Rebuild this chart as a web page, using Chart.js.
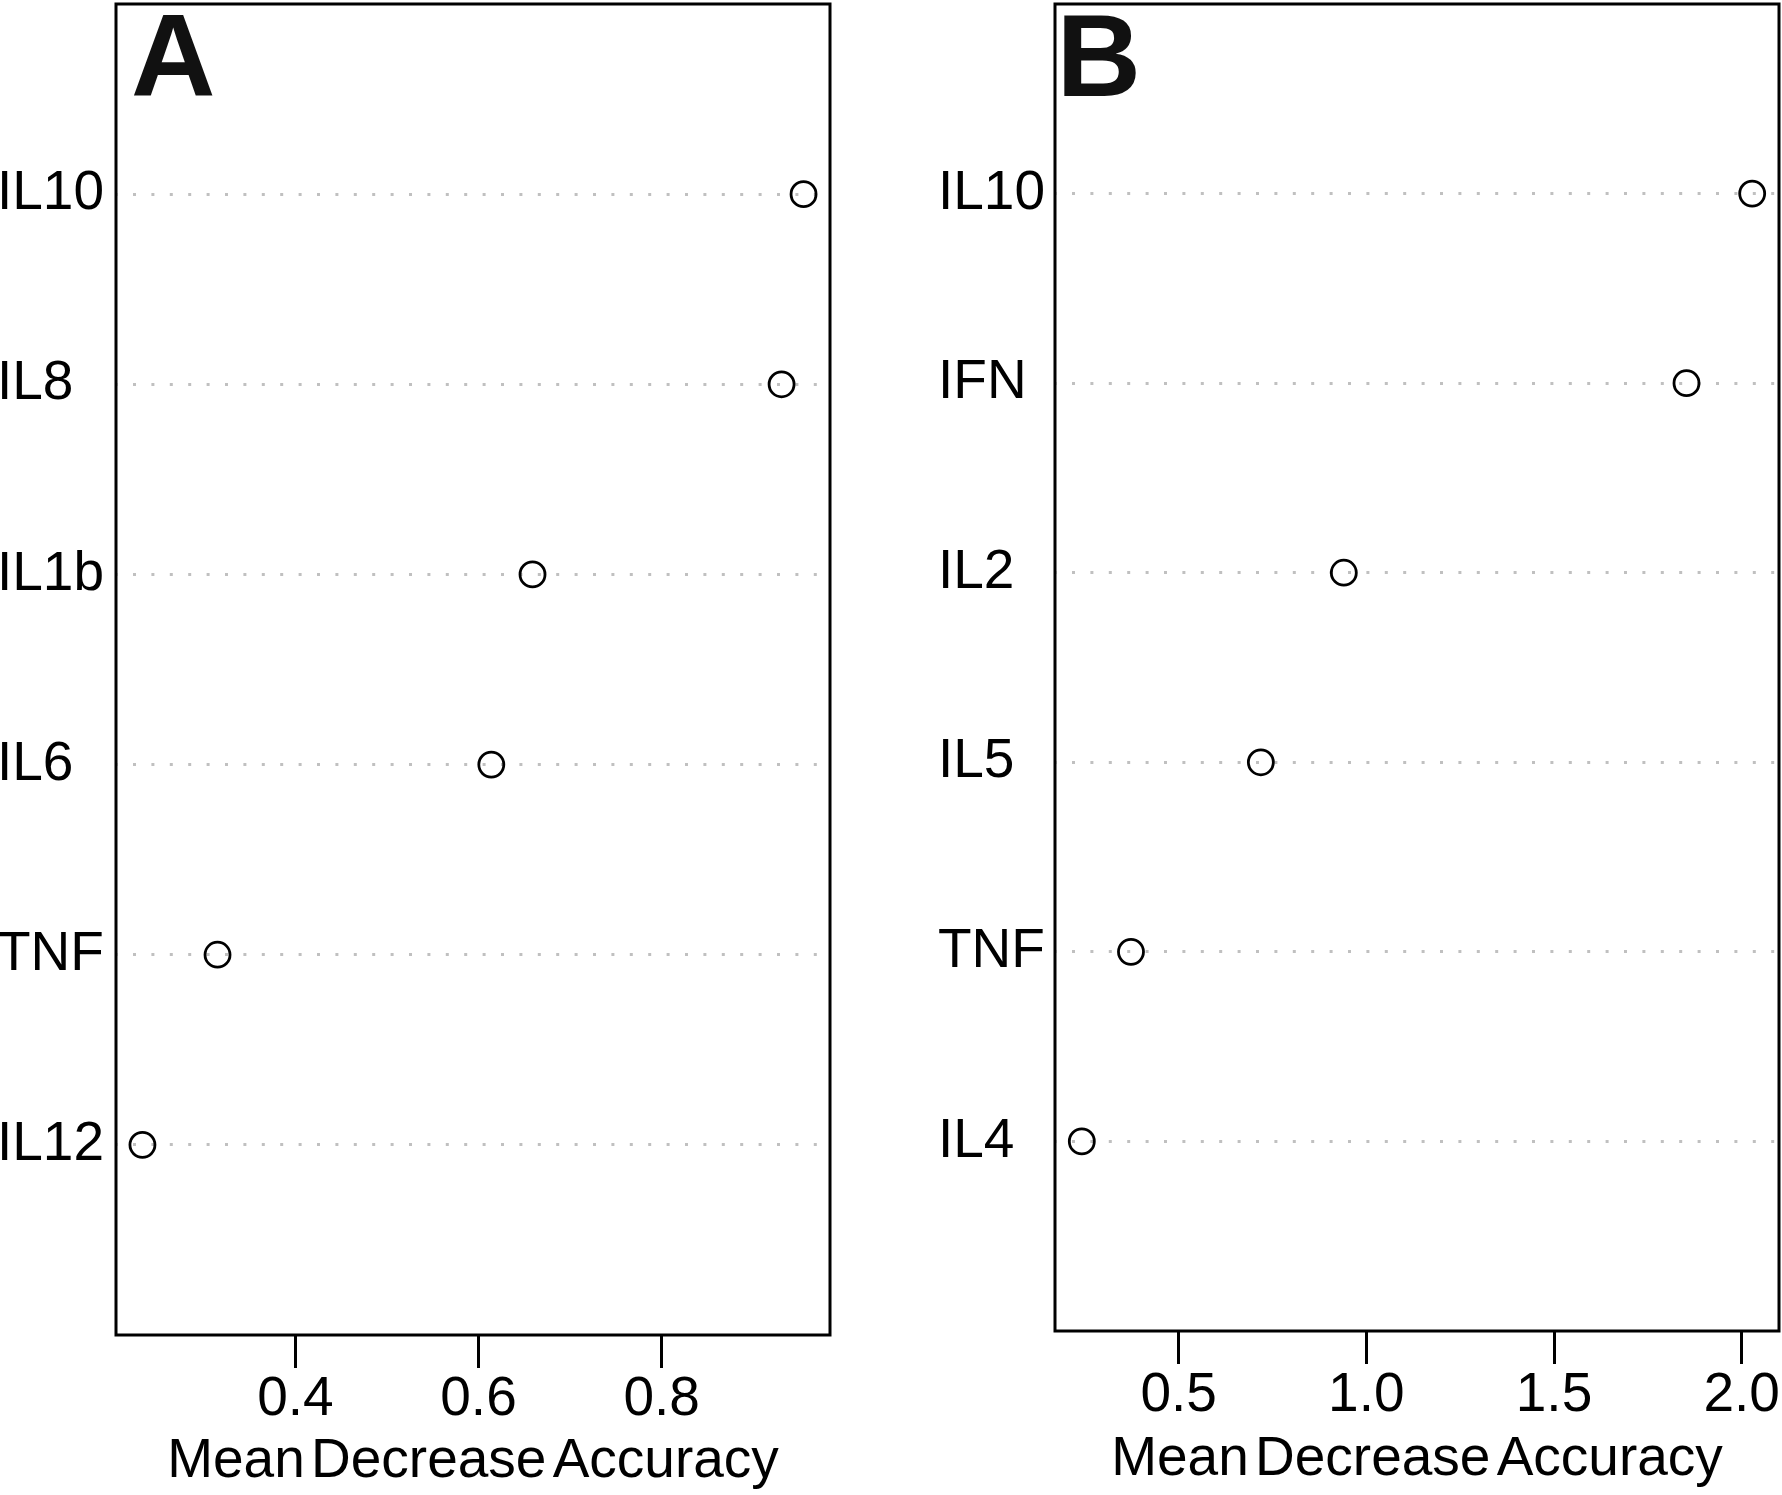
<!DOCTYPE html>
<html><head><meta charset="utf-8">
<script src="https://cdn.jsdelivr.net/npm/chart.js@4.4.1/dist/chart.umd.min.js"></script>
<style>
html,body{margin:0;padding:0;background:#fff;width:1782px;height:1495px;overflow:hidden;position:relative}
.wrap{position:absolute;top:0;height:1495px}
canvas{display:block}
</style></head><body>
<div class="wrap" style="left:-3px;width:840px"><canvas id="ca" width="840" height="1495"></canvas></div>
<div class="wrap" style="left:938px;width:844px"><canvas id="cb" width="844" height="1495"></canvas></div>
<script>
// ---- data ----
const categoriesA = ['IL10', 'IL8', 'IL1b', 'IL6', 'TNF', 'IL12'];
const valuesA = [0.955, 0.931, 0.659, 0.614, 0.315, 0.233];
const xTicksA = [0.4, 0.6, 0.8];
const xTickLabelsA = ['0.4', '0.6', '0.8'];

const categoriesB = ['IL10', 'IFN', 'IL2', 'IL5', 'TNF', 'IL4'];
const valuesB = [2.028, 1.853, 0.940, 0.719, 0.373, 0.242];
const xTicksB = [0.5, 1.0, 1.5, 2.0];
const xTickLabelsB = ['0.5', '1.0', '1.5', '2.0'];

const axisTitle = 'Mean Decrease Accuracy';
const panelLetters = ['A', 'B'];

// ---- drawing ----
Chart.defaults.font.family = '"Liberation Sans", Arial, sans-serif';
Chart.defaults.color = '#000';

function makePanel(id, cats, vals, ticks, tickLabels, letter, L) {
  const lo = Math.min(...vals), hi = Math.max(...vals), r = hi - lo;
  const n = cats.length;
  const boxPlugin = {
    id: 'box' + id,
    beforeDraw(chart) {
      chart.ctx.wordSpacing = '-9px';
    },
    afterDraw(chart) {
      const {ctx, chartArea: a} = chart;
      ctx.save();
      ctx.strokeStyle = '#000';
      ctx.lineWidth = 3;
      ctx.strokeRect(a.left, a.top, a.right - a.left, a.bottom - a.top);
      ctx.font = 'bold 117px "Liberation Sans", Arial, sans-serif';
      ctx.fillStyle = '#111';
      ctx.textBaseline = 'alphabetic';
      ctx.textAlign = 'left';
      ctx.fillText(letter, L.letterX, L.letterY);
      ctx.restore();
    }
  };
  return new Chart(document.getElementById(id), {
    type: 'scatter',
    data: {
      datasets: [{
        data: vals.map((v, i) => ({x: v, y: n - i})),
        pointStyle: 'circle',
        pointRadius: 12.5,
        pointBorderWidth: 2.8,
        borderColor: '#000',
        backgroundColor: 'rgba(0,0,0,0)',
        showLine: false
      }]
    },
    options: {
      responsive: false,
      animation: false,
      events: [],
      layout: {autoPadding: false, padding: {top: 4, right: L.padRight, bottom: 0, left: 0}},
      plugins: {legend: {display: false}, tooltip: {enabled: false}},
      scales: {
        x: {
          type: 'linear',
          min: lo - 0.04 * r,
          max: hi + 0.04 * r,
          afterBuildTicks: s => { s.ticks = ticks.map(v => ({value: v})); },
          afterFit: s => { s.height = L.xH; s.paddingLeft = 0; s.paddingRight = 0; },
          ticks: {
            padding: L.tickPad, autoSkip: false, maxRotation: 0,
            font: {size: 55}, color: '#000',
            callback: (v, i) => tickLabels[i]
          },
          grid: {drawOnChartArea: false, drawTicks: true, tickLength: 33, tickWidth: 3, tickColor: '#000', color: '#000'},
          border: {display: false},
          title: {display: true, text: axisTitle, font: {size: 55}, color: '#000', padding: {top: 0, bottom: L.titlePad}}
        },
        y: {
          type: 'linear',
          min: 0,
          max: n + 1,
          afterBuildTicks: s => { s.ticks = cats.map((c, i) => ({value: n - i})); },
          afterFit: s => { s.width = L.yW; s.paddingTop = 0; s.paddingBottom = 0; },
          ticks: {
            crossAlign: 'far', padding: 0, autoSkip: false,
            font: {size: 55}, color: '#000',
            callback: v => cats[n - v]
          },
          grid: {color: '#c0c0c0', lineWidth: 3, drawTicks: false},
          border: {display: false, dash: [3, 15.4], dashOffset: 1.4}
        }
      }
    },
    plugins: [boxPlugin]
  });
}

makePanel('ca', categoriesA, valuesA, xTicksA, xTickLabelsA, panelLetters[0],
  {yW: 119, xH: 160, padRight: 7, tickPad: -1, titlePad: 0, letterX: 134, letterY: 96});
makePanel('cb', categoriesB, valuesB, xTicksB, xTickLabelsB, panelLetters[1],
  {yW: 117, xH: 164, padRight: 3, tickPad: -1, titlePad: 2, letterX: 118.5, letterY: 96});
</script>
</body></html>
